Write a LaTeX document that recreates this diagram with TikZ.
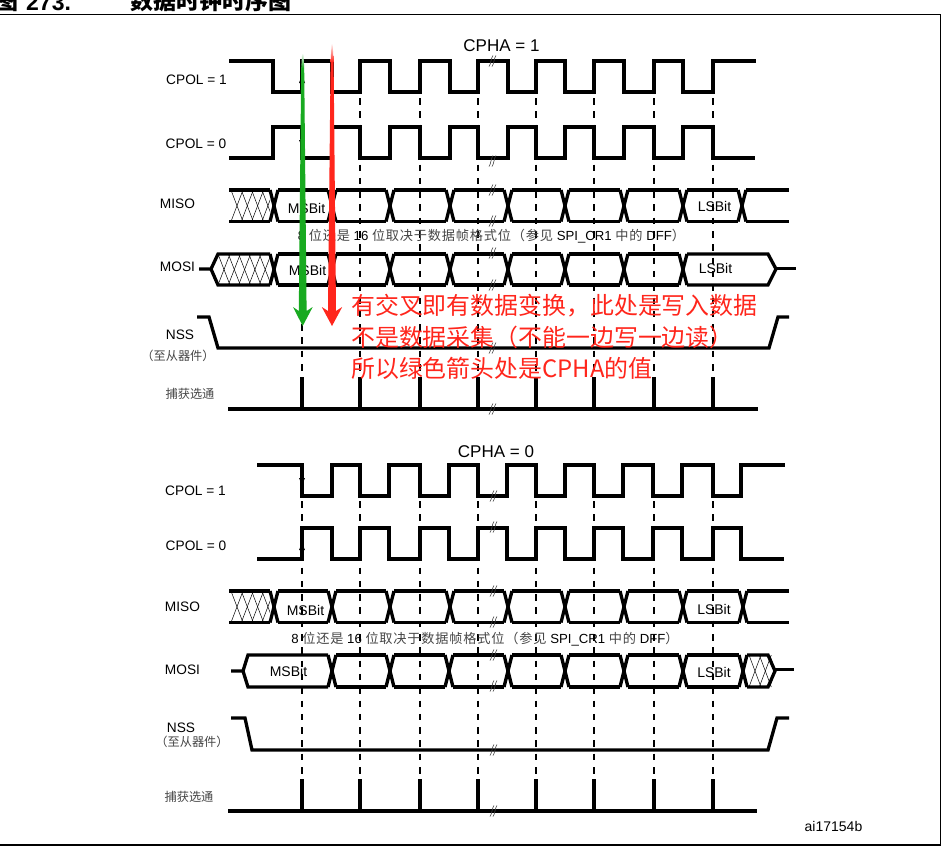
\documentclass[tikz,border=0pt]{standalone}
\usepackage{fontspec}
\setmainfont{Liberation Sans}
\newfontfamily\cjk{Noto Sans CJK SC}
\newfontfamily\cjkw[LetterSpace=6]{Noto Sans CJK SC}
\definecolor{noteRed}{RGB}{255,38,28}
\definecolor{arrGreen}{RGB}{24,170,32}
\definecolor{subGray}{RGB}{70,70,70}
\tikzset{
  sig/.style={line width=3.3pt,line cap=butt,line join=miter,black},
  probe/.style={line width=1.5pt,dash pattern=on 6.5pt off 6.8pt,black},
  tick/.style={line width=3.4pt,black},
  xh/.style={line width=0.5pt,black},
  brk/.style={line width=0.6pt,black!75},
  lbl/.style={inner sep=0pt,font=\fontsize{13.7}{15}\selectfont,anchor=center},
  bitl/.style={inner sep=0pt,font=\fontsize{14}{15}\selectfont,anchor=center},
  cnote/.style={inner sep=0pt,text=subGray,font=\cjk\fontsize{12.2}{14}\selectfont,anchor=center},
  rednote/.style={inner sep=0pt,text=noteRed,font=\cjk\fontsize{23.9}{28}\selectfont,anchor=west},
  widthnote/.style={inner sep=0pt,font=\fontsize{13.2}{15}\selectfont,anchor=center},
  head/.style={inner sep=0pt,font=\fontsize{17}{19}\selectfont,anchor=center},
  mini/.style={fill=black,draw=none}
}
\newcommand\busrow[3]{%
  \foreach \xc [remember=\xc as \xp (initially 0)] in {#3}{%
    \draw[sig] (\xc-4,#1) -- (\xc+4,#2);
    \draw[sig] (\xc-4,#2) -- (\xc+4,#1);
    \ifnum\xp>0
      \draw[sig] (\xp+4,#1) -- (\xc-4,#1);
      \draw[sig] (\xp+4,#2) -- (\xc-4,#2);
    \fi
  }}
\newcommand\hatchbox[4]{% x0,x1,top,bot
  \begin{scope}
    \clip (#1,#3) rectangle (#2,#4);
    \foreach \k in {0,...,5}{%
      \draw[xh] (#1+2+\k*10.3,#3) -- (#1+2+\k*10.3+12,#4);
      \draw[xh] (#1+2+\k*10.3,#4) -- (#1+2+\k*10.3+12,#3);
    }
  \end{scope}}
\newcommand\brkmark[2]{%
  \draw[brk] (#1-3,#2+5.5) .. controls (#1-1,#2+3) and (#1-1,#2-3) .. (#1+1,#2-5.5);
  \draw[brk] (#1,#2+5.5) .. controls (#1+2,#2+3) and (#1+2,#2-3) .. (#1+4,#2-5.5);}
\newcommand\widthtext{8 {\color{subGray}\cjkw 位还是} 16 {\color{subGray}\cjkw 位取决于数据帧格式位（参见} SPI\_CR1 {\color{subGray}\cjkw 中的} DFF{\color{subGray}\cjkw ）}}
\begin{document}
\begin{tikzpicture}[x=1pt,y=-1pt]
\useasboundingbox (0,0) rectangle (943,849);
\fill[white] (0,0) rectangle (943,849);
\begin{scope}
\clip (0,0) rectangle (943,849);

% title and frame
\node[inner sep=0pt,anchor=base west,font=\cjk\bfseries\fontsize{23}{25}\selectfont] (figmark) at (-5,9.5) {图};
\node[inner sep=0pt,anchor=base west,font=\bfseries\fontsize{23}{25}\selectfont] (fignum) at (26,10) {273.};
\node[inner sep=0pt,anchor=base west,font=\cjk\bfseries\fontsize{23}{25}\selectfont] (figtitle) at (130,9.5) {数据时钟时序图};
\draw[line width=1.6pt] (0,14.5) -- (940.5,14.5) -- (940.5,845) -- (0,845);

% probes
\foreach \px in {302,360,420,478,536,594,654,713}{
  \draw[probe] (\px,98) -- (\px,377);
  \draw[probe] (\px,501) -- (\px,779);
  \draw[tick] (\px,377) -- (\px,409);
  \draw[tick] (\px,779) -- (\px,811);
}

% ---- CPHA = 1
\node[head] (cphaone) at (501.5,46) {CPHA = 1};
\draw[sig] (229,61) -| (273,92) -| (302,61) -| (332,92) -| (360,61) -| (390,92) -| (420,61) -| (450,92) -| (478,61) -| (508,92) -| (536,61) -| (565,92) -| (594,61) -| (624,92) -| (654,61) -| (683,92) -| (713,61) -- (756,61);
\draw[sig] (229,158) -| (273,127) -| (302,158) -| (332,127) -| (360,158) -| (390,127) -| (420,158) -| (450,127) -| (478,158) -| (508,127) -| (536,158) -| (565,127) -| (594,158) -| (624,127) -| (654,158) -| (683,127) -| (713,158) -- (755,158);
\fill[mini] (302,75) -- (305,83) -- (299,83) -- cycle;
\fill[mini] (302,147) -- (305,140) -- (299,140) -- cycle;

% MISO
\draw[sig] (229,190) -- (270,190); \draw[sig] (229,221.5) -- (270,221.5);
\hatchbox{229}{270}{190}{221.5}
\busrow{190}{221.5}{274,332,390,450,508,565,624,683,742}
\draw[sig] (746,190) -- (789,190); \draw[sig] (746,221.5) -- (789,221.5);

% MOSI
\draw[sig] (199,269) -- (211,269) -- (218,254) -- (270,254);
\draw[sig] (211,269) -- (218,285) -- (270,285);
\hatchbox{216}{270}{254}{285}
\busrow{254}{285}{274,332,390,450,508,565,624,683}
\draw[sig] (687,254) -- (768,254) -- (776,269) -- (768,285) -- (687,285);
\draw[sig] (776,268.5) -- (796,268.5);

% NSS
\draw[sig] (197,317) -- (209,317) -- (218,348) -- (769,348) -- (778,317) -- (789,317);
% strobe
\draw[sig] (228,409) -- (758,409);

% ---- CPHA = 0
\node[head] (cphazero) at (496,452) {CPHA = 0};
\draw[sig] (257,465) -| (302,496) -| (332,465) -| (360,496) -| (389,465) -| (420,496) -| (449,465) -| (478,496) -| (507,465) -| (536,496) -| (565,465) -| (594,496) -| (623,465) -| (653,496) -| (682,465) -| (713,496) -| (741,465) -- (785,465);
\draw[sig] (257,559) -| (302,528) -| (332,559) -| (360,528) -| (389,559) -| (420,528) -| (449,559) -| (478,528) -| (507,559) -| (536,528) -| (565,559) -| (594,528) -| (623,559) -| (653,528) -| (682,559) -| (713,528) -| (741,559) -- (784,559);
\fill[mini] (302,485) -- (305,478) -- (299,478) -- cycle;
\fill[mini] (302,543) -- (305,550) -- (299,550) -- cycle;

% MISO
\draw[sig] (229,591) -- (270,591); \draw[sig] (229,622.5) -- (270,622.5);
\hatchbox{229}{270}{591}{622.5}
\busrow{591}{622.5}{274,332,390,450,508,565,624,683,743}
\draw[sig] (747,591) -- (789,591); \draw[sig] (747,622.5) -- (789,622.5);

% MOSI
\draw[sig] (231,671) -- (243,671) -- (248,655) -- (328,655);
\draw[sig] (243,671) -- (248,687) -- (328,687);
\busrow{655}{687}{332,390,449,508,565,624,683,743}
\draw[sig] (747,655) -- (768,655) -- (775,671) -- (768,687) -- (747,687);
\hatchbox{747}{772}{655}{687}
\draw[sig] (775,669.5) -- (794,669.5);

% NSS
\draw[sig] (231,718) -- (245,718) -- (252,750) -- (768,750) -- (777,718) -- (789,718);
% strobe
\draw[sig] (228,811) -- (757,811);

% break marks
\foreach \by in {61,161,190,221,253,285,348,409}{\brkmark{492}{\by}}
\foreach \by in {496,527,591,622,655,686,750,811}{\brkmark{493}{\by}}

% labels
\node[lbl] (tc1) at (196.5,80) {CPOL = 1};
\node[lbl] (tc0) at (196,144) {CPOL = 0};
\node[lbl] (tmiso) at (177.5,204) {MISO};
\node[lbl] (tmosi) at (177.5,267) {MOSI};
\node[lbl] (tnss) at (180,335) {NSS};
\node[cnote] (tslave) at (178,356) {（至从器件）};
\node[cnote] (tstrobe) at (190,394) {捕获选通};
\node[lbl] (bc1) at (195.5,491) {CPOL = 1};
\node[lbl] (bc0) at (196,546) {CPOL = 0};
\node[lbl] (bmiso) at (182.5,607) {MISO};
\node[lbl] (bmosi) at (182.5,670) {MOSI};
\node[lbl] (bnss) at (181,728) {NSS};
\node[cnote] (bslave) at (192,742) {（至从器件）};
\node[cnote] (bstrobe) at (189,797) {捕获选通};

\node[bitl] (t1) at (306.5,208) {MSBit};
\node[bitl] (t2) at (307.5,270) {MSBit};
\node[bitl] (t3) at (714.5,206) {LSBit};
\node[bitl] (t4) at (715.5,268) {LSBit};
\node[bitl] (b1) at (305.5,610) {MSBit};
\node[bitl] (b2) at (288.5,671) {MSBit};
\node[bitl] (b3) at (714,609) {LSBit};
\node[bitl] (b4) at (714,672) {LSBit};

\node[widthnote] (wt) at (491.5,236) {\widthtext};
\node[widthnote] (wb) at (485,639) {\widthtext};
\node[bitl] (code) at (833.5,826) {ai17154b};

% green arrow
\shade[top color=white,bottom color=arrGreen] (302.2,53) -- (303.4,53) -- (304.2,68) -- (301.2,68) -- cycle;
\fill[arrGreen] (301.2,68) -- (304.2,68) -- (306.6,311) -- (312.7,307) -- (302.7,326) -- (293,307) -- (298.8,311) -- cycle;
% red arrow
\shade[top color=white,bottom color=noteRed] (331.6,43) -- (332.6,43) -- (333.6,62) -- (330.6,62) -- cycle;
\fill[noteRed] (330.6,62) -- (333.6,62) -- (336,311) -- (342.2,307) -- (332,326) -- (321.8,307) -- (328,311) -- cycle;

% red note
\node[rednote] (n1) at (351,306) {有交叉即有数据变换，此处是写入数据};
\node[rednote] (n2) at (351,337) {不是数据采集（不能一边写一边读）};
\node[rednote] (n3) at (351,368) {所以绿色箭头处是CPHA的值};
\end{scope}
\end{tikzpicture}
\end{document}
